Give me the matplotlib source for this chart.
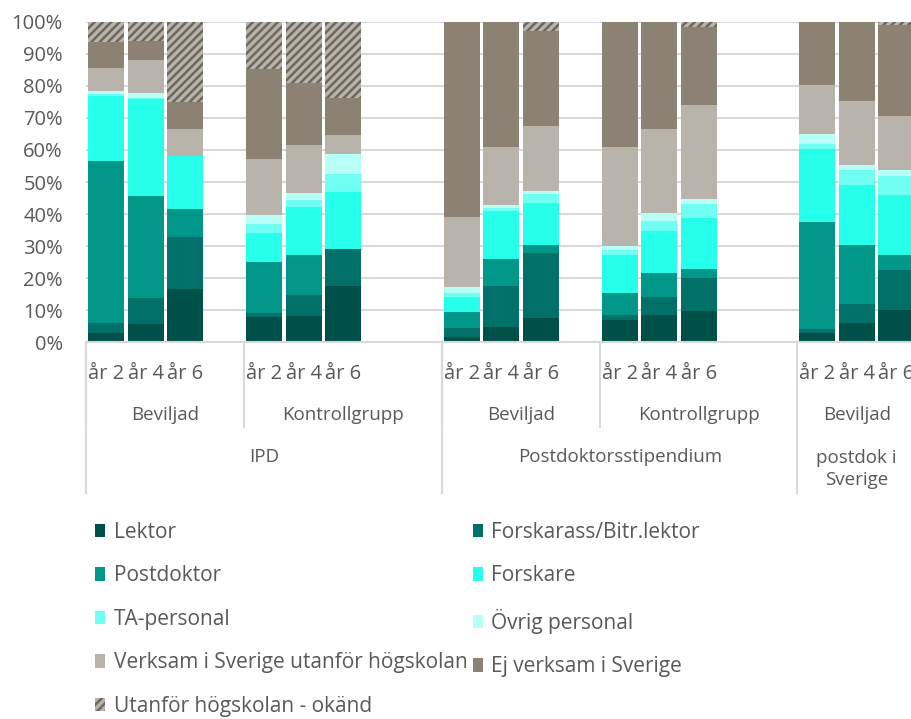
import numpy as np
import matplotlib.pyplot as plt

plt.rcParams['font.family'] = ['Open Sans', 'DejaVu Sans']
plt.rcParams['hatch.linewidth'] = 1.8

programs = ['IPD', 'Postdoktorsstipendium', 'postdok i\nSverige']
groups = [['Beviljad', 'Kontrollgrupp'], ['Beviljad', 'Kontrollgrupp'], ['Beviljad']]
years = ['år 2', 'år 4', 'år 6']

# andel (%) per stapel, i ordning IPD Bev, IPD Kontr, Postdok Bev, Postdok Kontr, postdok i Sverige Bev
lektor      = [3.0, 5.6, 16.5, 7.8, 8.2, 17.5, 1.6, 4.7, 7.5, 7.1, 8.4, 9.8, 2.8, 5.9, 10.2]
forskarass  = [2.9, 8.1, 16.5, 1.2, 6.5, 11.6, 3.0, 12.8, 20.2, 1.3, 5.8, 10.2, 1.4, 6.1, 12.5]
postdoktor  = [50.5, 32.0, 8.5, 16.2, 12.6, 0.0, 5.0, 8.6, 2.8, 7.1, 7.3, 3.0, 33.4, 18.4, 4.5]
forskare    = [20.5, 30.2, 16.7, 9.0, 15.0, 17.8, 4.6, 14.9, 12.8, 11.8, 13.1, 15.9, 22.8, 18.7, 18.6]
ta_personal = [0.5, 0.3, 0.0, 2.8, 2.1, 5.6, 1.3, 1.0, 3.1, 1.5, 3.1, 4.3, 1.5, 4.6, 6.2]
ovrig       = [1.0, 1.7, 0.0, 2.7, 2.1, 6.2, 1.9, 0.8, 0.9, 1.3, 2.5, 1.5, 3.2, 1.6, 1.6]
verksam     = [7.2, 10.0, 8.3, 17.5, 15.0, 5.9, 21.6, 18.0, 20.2, 30.7, 26.3, 29.2, 15.1, 20.0, 17.1]
ej_verksam  = [8.2, 6.1, 8.3, 28.0, 19.3, 11.7, 61.0, 39.2, 29.6, 39.2, 33.5, 24.6, 19.8, 24.7, 28.3]
okand       = [6.2, 6.0, 25.2, 14.8, 19.2, 23.7, 0.0, 0.0, 2.9, 0.0, 0.0, 1.5, 0.0, 0.0, 1.0]

series = [
    ('Lektor', lektor, '#00504A', None),
    ('Forskarass/Bitr.lektor', forskarass, '#007068', None),
    ('Postdoktor', postdoktor, '#009688', None),
    ('Forskare', forskare, '#26FFE9', None),
    ('TA-personal', ta_personal, '#70FFF2', None),
    ('Övrig personal', ovrig, '#B8FFF8', None),
    ('Verksam i Sverige utanför högskolan', verksam, '#B8B4AC', None),
    ('Ej verksam i Sverige', ej_verksam, '#8B8274', None),
    ('Utanför högskolan - okänd', okand, '#B8B4AC', '////'),
]

# kategoriplatser som i Excel: tom kategori efter varje delgrupp
x = []
sub_spans = []
prog_spans = []
slot = 0
for p, prog in enumerate(programs):
    p_start = slot
    for g, grp in enumerate(groups[p]):
        g_start = slot
        for yr in years:
            x.append(slot)
            slot += 1
        last_prog = p == len(programs) - 1
        last_grp = g == len(groups[p]) - 1
        if not (last_prog and last_grp):
            slot += 1
        if last_grp and not last_prog:
            slot += 1
        sub_spans.append((g_start, slot, grp))
    prog_spans.append((p_start, slot, prog))

fig = plt.figure(figsize=(9.12, 7.19), dpi=100)
ax = fig.add_axes([86.5 / 912, (719 - 342.3) / 719, 829.5 / 912, 320.6 / 719])

txt = '#595959'
grid = '#D9D9D9'

bottom = np.zeros(len(x))
handles = {}
for name, vals, color, hatch in series:
    vals = np.array(vals) / 100
    if hatch:
        b = ax.bar(x, vals, 0.9, bottom=bottom, color=color, edgecolor='#6E675D',
                   hatch=hatch, linewidth=0, zorder=2)
    else:
        b = ax.bar(x, vals, 0.9, bottom=bottom, color=color, linewidth=0, zorder=2)
    handles[name] = b
    bottom += vals

ax.set_xlim(-0.5, slot - 0.5)
ax.set_ylim(0, 1)
ax.set_yticks(np.arange(0, 1.01, 0.1))
ax.set_yticklabels([f'{int(round(v * 100))}%' for v in np.arange(0, 1.01, 0.1)])
ax.tick_params(axis='y', length=0, pad=17, labelsize=14.5, labelcolor=txt)
ax.set_xticks([])
ax.yaxis.grid(True, color=grid, linewidth=1.5, zorder=0)
for s in ['top', 'right', 'left']:
    ax.spines[s].set_visible(False)
ax.spines['bottom'].set_color(grid)
ax.spines['bottom'].set_linewidth(1.5)

tr = ax.get_xaxis_transform()
for i, xi in enumerate(x):
    ax.text(xi, -0.098, years[i % 3], ha='center', va='center', fontsize=14.5,
            color=txt, transform=tr)
for start, end, lab in sub_spans:
    ax.text((start + end - 1) / 2, -0.226, lab, ha='center', va='center', fontsize=13.5,
            color=txt, transform=tr)
    ax.plot([start - 0.5] * 2, [0, -0.263], color=grid, lw=1.5, transform=tr, clip_on=False)
for start, end, lab in prog_spans:
    ypos = -0.395 if '\n' in lab else -0.357
    ax.text((start + end - 1) / 2, ypos, lab, ha='center', va='center',
            fontsize=13.5, color=txt, transform=tr, linespacing=1.3)
    ax.plot([start - 0.5] * 2, [0, -0.471], color=grid, lw=1.5, transform=tr, clip_on=False)

order = ['Lektor', 'Postdoktor', 'TA-personal', 'Verksam i Sverige utanför högskolan',
         'Utanför högskolan - okänd', 'Forskarass/Bitr.lektor', 'Forskare', 'Övrig personal',
         'Ej verksam i Sverige']
leg = fig.legend([handles[n] for n in order], order, ncol=2, loc='upper left',
                 bbox_to_anchor=(0.104, 0.274), frameon=False, fontsize=15,
                 handlelength=0.48, handleheight=0.63, handletextpad=0.42,
                 columnspacing=0.25, labelspacing=1.08, borderpad=0, borderaxespad=0)
for t in leg.get_texts():
    t.set_color(txt)

fig.savefig('out.png', dpi=100)
